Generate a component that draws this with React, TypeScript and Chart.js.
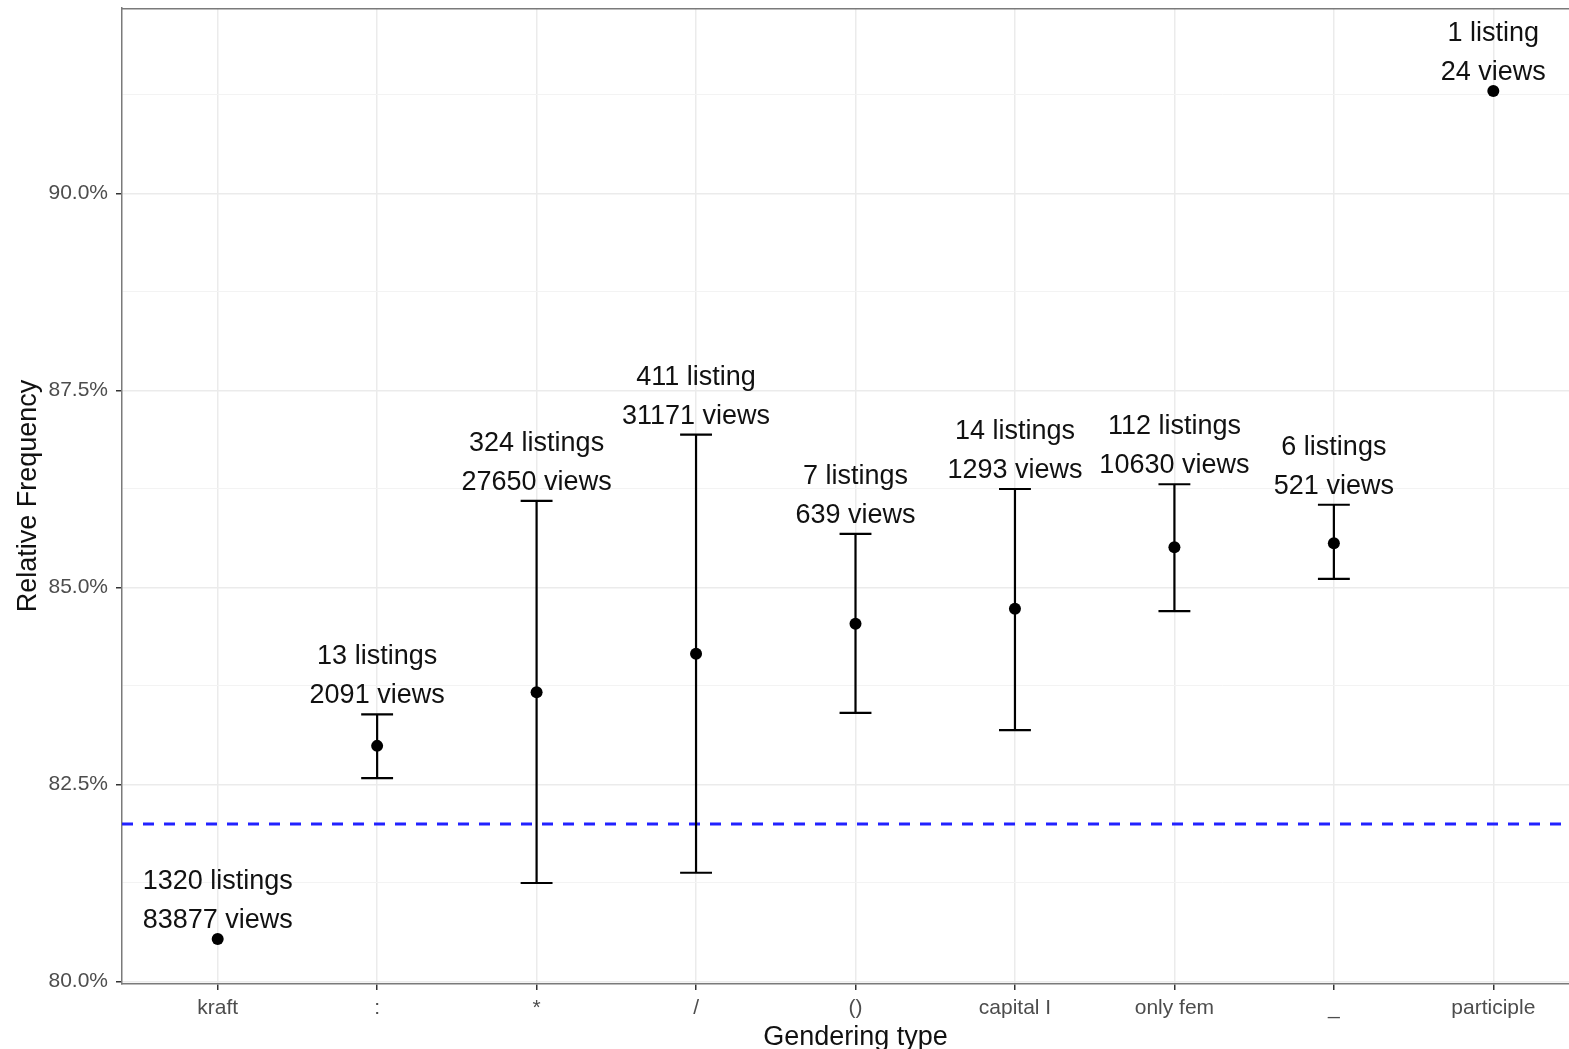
import React, { useEffect, useRef } from 'react';
import { Chart, registerables } from 'chart.js';

Chart.register(...registerables);

const categories = ['kraft', ':', '*', '/', '()', 'capital I', 'only fem', '_', 'participle'];
const meanValues = [80.54, 82.99, 83.67, 84.16, 84.54, 84.73, 85.51, 85.56, 91.3];
const lowerValues: (number | null)[] = [null, 82.58, 81.25, 81.38, 83.41, 83.19, 84.7, 85.11, null];
const upperValues: (number | null)[] = [null, 83.39, 86.1, 86.94, 85.68, 86.25, 86.31, 86.05, null];
const listingLabels = ['1320 listings', '13 listings', '324 listings', '411 listing', '7 listings', '14 listings', '112 listings', '6 listings', '1 listing'];
const viewLabels = ['83877 views', '2091 views', '27650 views', '31171 views', '639 views', '1293 views', '10630 views', '521 views', '24 views'];
const referenceLine = 82.0;
const yMajorTicks = [80, 82.5, 85, 87.5, 90];
const yMinorTicks = [81.25, 83.75, 86.25, 88.75, 91.25];

const FONT = '"Liberation Sans", Arial, Helvetica, sans-serif';

const overlayPlugin = {
  id: 'overlay',
  beforeDatasetsDraw(chart: any) {
    const { ctx, chartArea, scales } = chart;
    const xs = scales.x;
    const ys = scales.y;
    ctx.save();
    // top border
    ctx.strokeStyle = '#7a7a7a';
    ctx.lineWidth = 1.5;
    ctx.beginPath();
    ctx.moveTo(chartArea.left, chartArea.top + 0.75);
    ctx.lineTo(chartArea.right, chartArea.top + 0.75);
    ctx.stroke();
    // reference line
    const yRef = ys.getPixelForValue(referenceLine);
    ctx.strokeStyle = '#2222ff';
    ctx.lineWidth = 3;
    ctx.setLineDash([11, 10]);
    ctx.beginPath();
    ctx.moveTo(chartArea.left, yRef);
    ctx.lineTo(chartArea.right, yRef);
    ctx.stroke();
    ctx.setLineDash([]);
    // error bars
    ctx.strokeStyle = '#000';
    ctx.lineWidth = 2.2;
    categories.forEach((_, i) => {
      const lo = lowerValues[i];
      const hi = upperValues[i];
      if (lo == null || hi == null) return;
      const xc = xs.getPixelForValue(i);
      const half = xs.getPixelForValue(i + 0.1) - xc;
      const yl = ys.getPixelForValue(lo);
      const yh = ys.getPixelForValue(hi);
      ctx.beginPath();
      ctx.moveTo(xc, yl);
      ctx.lineTo(xc, yh);
      ctx.moveTo(xc - half, yl);
      ctx.lineTo(xc + half, yl);
      ctx.moveTo(xc - half, yh);
      ctx.lineTo(xc + half, yh);
      ctx.stroke();
    });
    ctx.restore();
  },
  afterDatasetsDraw(chart: any) {
    const { ctx, scales } = chart;
    const xs = scales.x;
    const ys = scales.y;
    ctx.save();
    ctx.fillStyle = '#111';
    ctx.font = `27px ${FONT}`;
    ctx.textAlign = 'center';
    ctx.textBaseline = 'alphabetic';
    categories.forEach((_, i) => {
      const top = upperValues[i] != null ? (upperValues[i] as number) : meanValues[i];
      const xc = xs.getPixelForValue(i);
      const yt = ys.getPixelForValue(top);
      ctx.fillText(viewLabels[i], xc, yt - 11);
      ctx.fillText(listingLabels[i], xc, yt - 50);
    });
    ctx.restore();
  },
};

export default function App() {
  const ref = useRef<HTMLCanvasElement | null>(null);
  useEffect(() => {
    if (!ref.current) return;
    const chart = new Chart(ref.current, {
      type: 'scatter',
      data: {
        datasets: [
          {
            data: meanValues.map((v, i) => ({ x: i, y: v })),
            pointRadius: 6,
            pointHoverRadius: 6,
            backgroundColor: '#000',
            borderColor: '#000',
            borderWidth: 0,
          },
        ],
      },
      options: {
        animation: false,
        responsive: false,
        events: [],
        layout: { padding: { top: 8, right: 0, left: 0, bottom: 0 } },
        plugins: { legend: { display: false }, tooltip: { enabled: false } },
        scales: {
          x: {
            type: 'linear',
            position: 'bottom',
            min: -0.6,
            max: 8.6,
            afterBuildTicks: (scale: any) => {
              scale.ticks = categories.map((_, i) => ({ value: i }));
            },
            afterFit: (scale: any) => {
              scale.height = 65;
              scale.paddingLeft = 0;
              scale.paddingRight = 0;
            },
            ticks: {
              autoSkip: false,
              maxRotation: 0,
              padding: 6,
              color: '#4d4d4d',
              font: { family: FONT, size: 21 },
              callback: (v: any) => categories[Math.round(Number(v))] ?? '',
            },
            grid: {
              color: '#ebebeb',
              lineWidth: 1.5,
              tickColor: '#333',
              tickLength: 6,
              tickWidth: 1.5,
            },
            border: { color: '#7a7a7a', width: 1.5 },
            title: {
              display: true,
              text: 'Gendering type',
              color: '#111',
              font: { family: FONT, size: 27, lineHeight: 0.9 },
              padding: { top: 0, bottom: -1 },
            },
          },
          y: {
            type: 'linear',
            min: 79.968,
            max: 92.354,
            afterBuildTicks: (scale: any) => {
              scale.ticks = [...yMajorTicks, ...yMinorTicks]
                .sort((a, b) => a - b)
                .map((v) => ({ value: v }));
            },
            afterFit: (scale: any) => {
              scale.width = 122;
              scale.paddingTop = 0;
              scale.paddingBottom = 0;
            },
            ticks: {
              padding: 8,
              color: '#4d4d4d',
              font: { family: FONT, size: 21 },
              callback: (v: any) => (yMajorTicks.includes(Number(v)) ? Number(v).toFixed(1) + '%' : ''),
            },
            grid: {
              color: (c: any) => (yMajorTicks.includes(c.tick?.value) ? '#ebebeb' : '#f3f3f3'),
              lineWidth: (c: any) => (yMajorTicks.includes(c.tick?.value) ? 1.5 : 1),
              tickColor: (c: any) => (yMajorTicks.includes(c.tick?.value) ? '#333' : 'rgba(0,0,0,0)'),
              tickLength: 6,
              tickWidth: 1.5,
            },
            border: { color: '#7a7a7a', width: 1.5 },
            title: {
              display: true,
              text: 'Relative Frequency',
              color: '#111',
              font: { family: FONT, size: 27, lineHeight: 1 },
              padding: { top: 15, bottom: 0 },
            },
          },
        },
      },
      plugins: [overlayPlugin],
    });
    return () => chart.destroy();
  }, []);
  return (
    <div
      style={{
        position: 'absolute',
        left: 0,
        top: 0,
        width: 1569,
        height: 1049,
        overflow: 'hidden',
        background: '#fff',
      }}
    >
      <canvas ref={ref} width={1595} height={1049} style={{ display: 'block' }} />
    </div>
  );
}
